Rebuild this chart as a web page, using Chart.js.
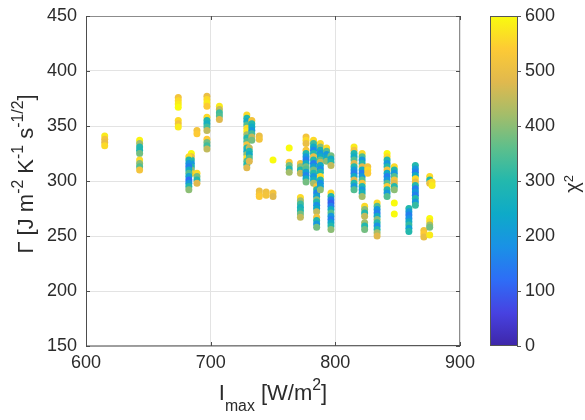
<!DOCTYPE html>
<html>
<head>
<meta charset="utf-8">
<script src="https://cdn.jsdelivr.net/npm/chart.js@4"></script>
<style>
  html, body { margin: 0; padding: 0; background: #fff; }
  canvas { display: block; }
</style>
</head>
<body>
<canvas id="chart" width="585" height="420"></canvas>
<script>
// one entry per column of points: I_max, its Gamma values (top to bottom) and chi^2 of each point
const imaxCols = [615, 643, 674, 684.5, 682.5, 689, 697, 707, 729, 731, 733, 739, 744.5, 750, 763, 772, 776.5,
    782.5, 785, 788, 793, 796.5, 815, 821.5, 823.5, 826, 833.5, 841.5, 847.3, 859, 864.2, 871, 875.7, 877.6];
const gammaCols = [
    [341, 338, 335, 332],
    [337, 334, 331, 328, 325, 319, 316, 313, 310],
    [376, 373, 370, 367, 355, 352, 349],
    [325, 322, 319, 316, 313, 310, 307],
    [322, 319, 316, 313, 310, 307, 304, 301, 298, 295, 292],
    [346, 343, 307, 304, 301, 298],
    [377, 374, 371, 368, 358, 355, 352, 349, 346, 338, 335, 332, 329],
    [368, 365, 362, 359, 356],
    [360, 357, 354, 351, 348, 345, 342, 339, 336, 333, 330, 327, 324, 321, 318, 315, 312],
    [330, 327, 324, 321, 318],
    [355, 352, 349, 346, 343, 340, 337],
    [341, 338, 291, 288, 286],
    [290, 287],
    [319, 289, 286],
    [330, 317, 314, 311, 308],
    [316, 313, 310, 307, 285, 282, 279, 276, 273, 270, 267],
    [340, 337, 334, 328, 325, 322, 319, 316, 313, 311, 308, 305, 302, 299],
    [337, 334, 331, 328, 325, 322, 319, 316, 313, 310, 307, 304, 301, 298],
    [295, 292, 289, 286, 283, 281, 278, 275, 272, 267, 264, 261, 258],
    [334, 331, 328, 325, 322, 319, 317, 314, 311, 308, 304, 301, 298, 295, 292],
    [330, 327, 324, 321, 318],
    [323, 320, 317, 314, 289, 286, 283, 280, 277, 274, 271, 268, 265, 262, 259, 256],
    [331, 328, 325, 322, 319, 316, 313, 310, 307, 304, 301, 298, 295, 292],
    [325, 322, 319, 316, 313, 310, 307, 304, 301, 298, 295, 292, 289, 286],
    [277, 274, 271, 268, 262, 259, 256],
    [313, 310, 307],
    [280, 277, 274, 271, 268, 265, 262, 259, 256, 253, 250],
    [325, 322, 319, 316, 313, 310, 307, 304, 301, 298, 295, 292, 289, 286],
    [313, 310, 307, 304, 301, 298, 295, 292, 280, 270],
    [275, 272, 269, 266, 263, 260, 257, 254],
    [314, 311, 308, 305, 302, 299, 296, 293, 290, 287, 284, 281, 278],
    [255, 252, 249],
    [304, 301, 298, 266, 263, 260, 258, 251],
    [299, 296],
];
const chi2Cols = [
    [580, 520, 500, 560],
    [590, 420, 300, 290, 380, 560, 400, 350, 520],
    [520, 560, 580, 600, 560, 520, 580],
    [600, 500, 300, 200, 300, 400, 550],
    [560, 300, 200, 150, 250, 350, 220, 120, 200, 300, 400],
    [520, 540, 560, 380, 300, 480],
    [500, 560, 580, 540, 560, 300, 260, 330, 450, 540, 380, 330, 450],
    [580, 450, 330, 350, 480],
    [560, 300, 250, 350, 560, 580, 420, 300, 350, 520, 300, 250, 400, 560, 350, 300, 480],
    [450, 300, 250, 350, 480],
    [520, 300, 250, 200, 330, 450, 380],
    [500, 520, 500, 520, 540],
    [510, 520],
    [600, 520, 480],
    [600, 540, 380, 300, 420],
    [520, 400, 300, 450, 560, 420, 330, 270, 300, 380, 450],
    [520, 560, 500, 530, 300, 200, 150, 250, 380, 350, 220, 160, 250, 380],
    [560, 330, 250, 170, 300, 500, 300, 150, 220, 380, 300, 200, 260, 420],
    [520, 300, 160, 220, 400, 300, 180, 240, 450, 520, 300, 200, 380],
    [560, 400, 280, 200, 250, 360, 450, 250, 180, 300, 560, 300, 180, 220, 400],
    [560, 350, 200, 250, 400],
    [380, 250, 300, 450, 560, 300, 150, 100, 150, 250, 350, 200, 150, 230, 300, 400],
    [580, 520, 300, 250, 350, 480, 300, 200, 150, 250, 480, 300, 200, 350],
    [560, 350, 200, 300, 480, 250, 150, 200, 350, 520, 300, 200, 280, 420],
    [560, 400, 300, 450, 420, 300, 380],
    [520, 560, 540],
    [560, 350, 200, 150, 250, 400, 300, 180, 300, 420, 480],
    [600, 560, 300, 200, 300, 520, 250, 150, 200, 350, 540, 300, 200, 350],
    [560, 300, 200, 350, 520, 480, 300, 400, 600, 600],
    [300, 200, 150, 180, 250, 320, 220, 300],
    [300, 200, 150, 250, 560, 500, 300, 150, 200, 150, 300, 200, 320],
    [520, 540, 500],
    [560, 300, 500, 600, 560, 420, 380, 580],
    [560, 580],
];
const xTicks = [600, 700, 800, 900];
const yTicks = [150, 200, 250, 300, 350, 400, 450];
const chi2Ticks = [0, 100, 200, 300, 400, 500, 600];

const FONT = '"Liberation Sans", Arial, sans-serif';
const TXT = '#2b2b2b';

// parula colormap
const parulaStops = ['#3e26a8', '#4742e1', '#2e6df6', '#1a91e6', '#0eaac8', '#23b8ad',
    '#5dbf8c', '#a3bd6a', '#e0b94e', '#fdca35', '#f9fb0e'];
function hex(c) { return [1, 3, 5].map(i => parseInt(c.substr(i, 2), 16)); }
function parula(t) {
    t = Math.min(1, Math.max(0, t)) * (parulaStops.length - 1);
    const i = Math.min(Math.floor(t), parulaStops.length - 2), f = t - i;
    const a = hex(parulaStops[i]), b = hex(parulaStops[i + 1]);
    return 'rgb(' + a.map((v, k) => Math.round(v + (b[k] - v) * f)).join(',') + ')';
}

const points = [], colors = [];
imaxCols.forEach((x, i) => {
    gammaCols[i].forEach((g, j) => {
        points.push({x: x, y: g});
        colors.push(parula(chi2Cols[i][j] / 600));
    });
});

// text with sub/superscripts; parts = [text, 0 normal | 1 sup | -1 sub]
function richText(ctx, parts, cx, y, size, supScale = 0.72, supRise = 0.45) {
    const sz = p => p[1] ? size * supScale : size;
    let w = 0;
    parts.forEach(p => { ctx.font = sz(p) + 'px ' + FONT; w += ctx.measureText(p[0]).width; });
    let x = cx - w / 2;
    ctx.textAlign = 'left';
    ctx.textBaseline = 'alphabetic';
    parts.forEach(p => {
        ctx.font = sz(p) + 'px ' + FONT;
        const dy = p[1] === 1 ? -size * supRise : p[1] === -1 ? size * 0.5 : 0;
        ctx.fillText(p[0], x, y + dy);
        x += ctx.measureText(p[0]).width;
    });
}

// fixed axis sizes, no label overhang padding
function fixSize(w, h) {
    return s => {
        if (w) s.width = w;
        if (h) s.height = h;
        s.paddingTop = s.paddingBottom = s.paddingLeft = s.paddingRight = 0;
    };
}

const decor = {
    id: 'decor',
    afterDraw(chart) {
        const {ctx, chartArea: a, scales} = chart;
        ctx.save();
        // axes box
        ctx.lineWidth = 1;
        ctx.strokeStyle = '#8c8c8c';
        ctx.beginPath();
        ctx.moveTo(a.left, a.top + 0.5); ctx.lineTo(a.right, a.top + 0.5);
        ctx.moveTo(a.right - 0.5, a.top); ctx.lineTo(a.right - 0.5, a.bottom);
        ctx.stroke();
        ctx.strokeStyle = '#4d4d4d';
        ctx.beginPath();
        ctx.moveTo(a.left + 0.5, a.top); ctx.lineTo(a.left + 0.5, a.bottom);
        ctx.lineTo(a.right, a.bottom - 0.5);
        // inward ticks
        yTicks.forEach(v => {
            const py = Math.round(scales.y.getPixelForValue(v)) + 0.5;
            ctx.moveTo(a.left, py); ctx.lineTo(a.left + 4, py);
            ctx.moveTo(a.right, py); ctx.lineTo(a.right - 4, py);
        });
        xTicks.forEach(v => {
            const px = Math.round(scales.x.getPixelForValue(v)) + 0.5;
            ctx.moveTo(px, a.bottom); ctx.lineTo(px, a.bottom - 4);
            ctx.moveTo(px, a.top); ctx.lineTo(px, a.top + 4);
        });
        ctx.stroke();

        // colorbar
        const cb = scales.cb, x0 = 490, x1 = 518;
        const grad = ctx.createLinearGradient(0, cb.bottom, 0, cb.top);
        parulaStops.forEach((c, i) => grad.addColorStop(i / (parulaStops.length - 1), c));
        ctx.fillStyle = grad;
        ctx.fillRect(x0, cb.top, x1 - x0, cb.bottom - cb.top);
        ctx.strokeStyle = '#555';
        ctx.strokeRect(x0 + 0.5, cb.top + 0.5, x1 - x0 - 1, cb.bottom - cb.top - 1);
        ctx.beginPath();
        chi2Ticks.forEach(v => {
            const py = Math.round(cb.getPixelForValue(v)) + 0.5;
            ctx.moveTo(x1 - 1, py); ctx.lineTo(x1 + 3, py);
        });
        ctx.stroke();

        // titles
        ctx.fillStyle = TXT;
        richText(ctx, [['I', 0], ['max', -1], [' [W/m', 0], ['2', 1], [']', 0]], (a.left + a.right) / 2, 400, 22);
        ctx.save();
        ctx.translate(33, 174);
        ctx.rotate(-Math.PI / 2);
        richText(ctx, [['\u0393 [J m', 0], ['-2', 1], [' K', 0], ['-1', 1], [' s', 0], ['-1/2', 1], [']', 0]], 0, 0, 22);
        ctx.restore();
        ctx.save();
        ctx.translate(579, 184);
        ctx.rotate(-Math.PI / 2);
        richText(ctx, [['\u03c7', 0], ['2', 1]], 0, 0, 20, 0.65, 0.3);
        ctx.restore();
        ctx.restore();
    }
};

const tickFont = {family: FONT, size: 18};

new Chart(document.getElementById('chart'), {
    type: 'scatter',
    data: {
        datasets: [{
            data: points,
            backgroundColor: colors,
            borderWidth: 0,
            pointRadius: 3.5,
            pointHoverRadius: 3.5,
        }]
    },
    options: {
        responsive: false,
        animation: false,
        devicePixelRatio: 1,
        events: [],
        layout: {padding: {top: 16, left: 0, right: 0, bottom: 0}},
        plugins: {
            legend: {display: false},
            tooltip: {enabled: false},
        },
        scales: {
            x: {
                type: 'linear',
                min: xTicks[0],
                max: xTicks[xTicks.length - 1],
                afterBuildTicks: s => { s.ticks = xTicks.map(v => ({value: v})); },
                afterFit: fixSize(0, 74),
                ticks: {color: TXT, font: tickFont, padding: 6, maxRotation: 0},
                grid: {color: '#e3e3e3', drawTicks: false},
                border: {display: false},
            },
            y: {
                type: 'linear',
                min: yTicks[0],
                max: yTicks[yTicks.length - 1],
                afterBuildTicks: s => { s.ticks = yTicks.map(v => ({value: v})); },
                afterFit: fixSize(86, 0),
                ticks: {color: TXT, font: tickFont, padding: 9},
                grid: {color: '#e3e3e3', drawTicks: false},
                border: {display: false},
            },
            cb: {
                type: 'linear',
                position: 'right',
                min: chi2Ticks[0],
                max: chi2Ticks[chi2Ticks.length - 1],
                afterBuildTicks: s => { s.ticks = chi2Ticks.map(v => ({value: v})); },
                afterFit: fixSize(125, 0),
                ticks: {color: TXT, font: tickFont, padding: 65},
                grid: {display: false, drawTicks: false},
                border: {display: false},
            },
        },
    },
    plugins: [decor],
});
</script>
</body>
</html>
